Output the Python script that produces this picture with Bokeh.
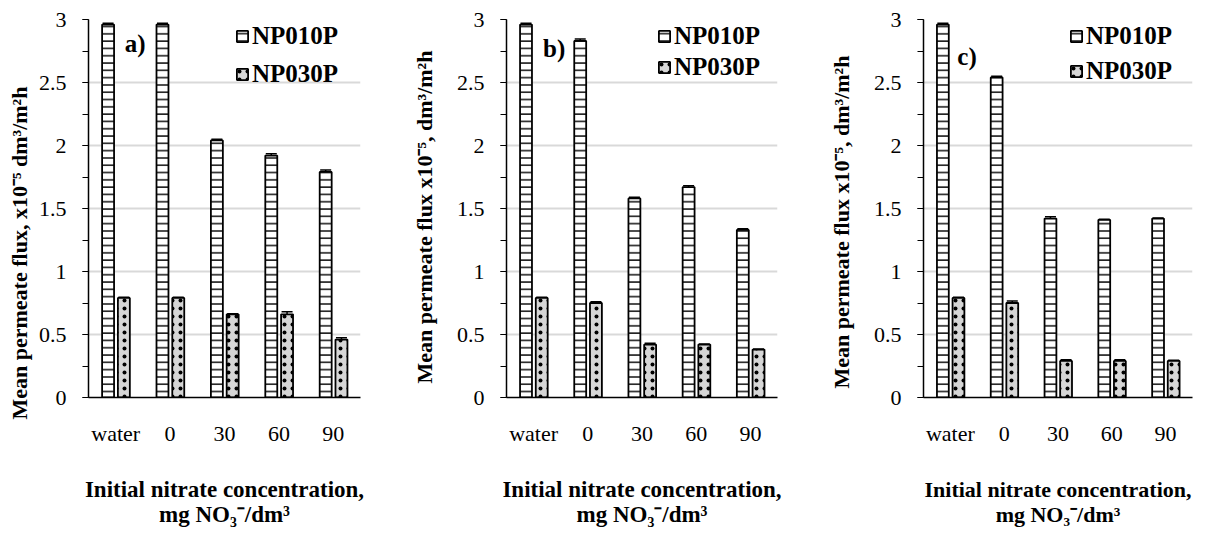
from bokeh.plotting import figure
from bokeh.layouts import row
from bokeh.models import (FactorRange, Range1d, SingleIntervalTicker, ColumnDataSource,
                          Whisker, TeeHead, Legend, LegendItem, Label, Title)
from bokeh.transform import dodge
from bokeh.embed import file_html
from bokeh.resources import INLINE

categories = ["water", "0", "30", "60", "90"]

np010p_a = [2.96, 2.96, 2.04, 1.92, 1.79]
np030p_a = [0.79, 0.79, 0.66, 0.66, 0.46]
err010_a = [0.01, 0.01, 0.01, 0.015, 0.015]
err030_a = [0.005, 0.005, 0.005, 0.02, 0.015]

np010p_b = [2.96, 2.83, 1.58, 1.67, 1.33]
np030p_b = [0.79, 0.75, 0.42, 0.42, 0.38]
err010_b = [0.01, 0.015, 0.01, 0.01, 0.01]
err030_b = [0.005, 0.01, 0.01, 0.005, 0.005]

np010p_c = [2.96, 2.54, 1.42, 1.41, 1.42]
np030p_c = [0.79, 0.75, 0.29, 0.29, 0.29]
err010_c = [0.01, 0.01, 0.015, 0.005, 0.005]
err030_c = [0.005, 0.015, 0.01, 0.01, 0.005]

panel_letters = ["a)", "b)", "c)"]
series_names = ["NP010P", "NP030P"]
ytitle_a = "Mean permeate flux, x10\u207b\u2075 dm\u00b3/m\u00b2h"
ytitle_bc = "Mean permeate flux x10\u207b\u2075, dm\u00b3/m\u00b2h"
xtitle = "Initial nitrate concentration,\nmg NO\u2083\u207b/dm\u00b3"

FONT = "Liberation Serif, Times New Roman, serif"


def make_panel(v1, v2, e1, e2, letter, ytitle, width, bl, br, lay):
    p = figure(x_range=FactorRange(*categories), y_range=Range1d(0, 3),
               width=width, height=529, output_backend="svg",
               toolbar_location=None, min_border_left=bl, min_border_right=br,
               min_border_top=19, min_border_bottom=124)
    p.outline_line_color = None
    src = ColumnDataSource(dict(cat=categories, v1=v1, v2=v2,
                                up1=[a + b for a, b in zip(v1, e1)],
                                lo1=[a - b for a, b in zip(v1, e1)],
                                up2=[a + b for a, b in zip(v2, e2)],
                                lo2=[a - b for a, b in zip(v2, e2)]))
    off1, off2 = -0.14, 0.15
    r1 = p.vbar(x=dodge("cat", off1, range=p.x_range), top="v1", width=0.22, source=src,
                fill_color="white", line_color="black", line_width=1.8,
                hatch_pattern="horizontal_line", hatch_scale=7.3, hatch_weight=1.4,
                hatch_color="black")
    r2 = p.vbar(x=dodge("cat", off2, range=p.x_range), top="v2", width=0.22, source=src,
                fill_color="#d6d6d6", line_color="black", line_width=1.8,
                hatch_pattern="dot", hatch_scale=8, hatch_weight=1.6,
                hatch_color="black")
    for base, up, lo in ((dodge("cat", off1, range=p.x_range), "up1", "lo1"),
                         (dodge("cat", off2, range=p.x_range), "up2", "lo2")):
        w = Whisker(source=src, base=base, upper=up, lower=lo, line_color="black",
                    line_width=1.5,
                    upper_head=TeeHead(size=11, line_color="black", line_width=1.5),
                    lower_head=TeeHead(size=11, line_color="black", line_width=1.5))
        p.add_layout(w)

    p.yaxis.ticker = SingleIntervalTicker(interval=0.5, num_minor_ticks=2)
    p.yaxis.major_tick_in = 0
    p.yaxis.major_tick_out = 6
    p.yaxis.minor_tick_in = 0
    p.yaxis.minor_tick_out = 6
    p.yaxis.major_tick_line_color = "black"
    p.yaxis.minor_tick_line_color = "black"
    p.yaxis.axis_line_color = "black"
    p.yaxis.axis_line_width = 1.5
    p.yaxis.major_label_text_font = FONT
    p.yaxis.major_label_text_font_size = "22px"
    p.yaxis.major_label_text_color = "black"
    p.yaxis.major_label_standoff = 16

    p.xaxis.major_tick_line_color = None
    p.xaxis.minor_tick_line_color = None
    p.xaxis.axis_line_color = "black"
    p.xaxis.axis_line_width = 1.5
    p.xaxis.major_label_text_font = FONT
    p.xaxis.major_label_text_font_size = "22px"
    p.xaxis.major_label_text_color = "black"
    p.xaxis.major_label_standoff = 17
    p.xaxis.axis_label = xtitle
    p.xaxis.axis_label_text_font = FONT
    p.xaxis.axis_label_text_font_style = "bold"
    p.xaxis.axis_label_text_font_size = lay["xfs"]
    p.xaxis.axis_label_text_line_height = 1.0
    p.xaxis.axis_label_text_color = "black"
    p.xaxis.axis_label_standoff = 28

    p.xgrid.grid_line_color = None
    p.ygrid.grid_line_color = "#d9d9d9"
    p.ygrid.grid_line_width = 2

    yt = Title(text=ytitle, align="left", offset=lay["yoff"], standoff=lay["ystand"],
               text_font=FONT, text_font_style="bold", text_font_size="22px",
               text_color="black")
    p.add_layout(yt, "left")

    legend = Legend(items=[LegendItem(label=series_names[0], renderers=[r1]),
                           LegendItem(label=series_names[1], renderers=[r2])],
                    location="top_right")
    legend.label_text_font = FONT
    legend.label_text_font_style = "bold"
    legend.label_text_font_size = "25px"
    legend.label_text_color = "black"
    legend.glyph_width = 14
    legend.glyph_height = 14
    legend.label_standoff = 3
    legend.label_width = lay["legw"]
    legend.spacing = lay["legsp"]
    legend.padding = 3
    legend.margin = 0
    legend.label_height = 24
    legend.background_fill_alpha = 0
    legend.border_line_alpha = 0
    p.add_layout(legend)

    p.add_layout(Label(x=lay["letter"][0], y=lay["letter"][1], text=letter,
                       text_font=FONT, text_font_style="bold", text_font_size="25px",
                       text_align="center", text_baseline="middle", text_color="black"))
    return p


lay_a = dict(legw=105, legsp=10, letter=(0.86, 2.81), yoff=-22, ystand=8, xfs="23px")
lay_b = dict(legw=100, legsp=3, letter=(0.88, 2.77), yoff=14, ystand=34, xfs="23px")
lay_c = dict(legw=103, legsp=7, letter=(0.81, 2.71), yoff=9, ystand=34, xfs="22px")

pa = make_panel(np010p_a, np030p_a, err010_a, err030_a, panel_letters[0], ytitle_a,
                392, 86, 32, lay_a)
pb = make_panel(np010p_b, np030p_b, err010_b, err030_b, panel_letters[1], ytitle_bc,
                415, 113, 30, lay_b)
pc = make_panel(np010p_c, np030p_c, err010_c, err030_c, panel_letters[2], ytitle_bc,
                389, 116, 4, lay_c)

layout = row(pa, pb, pc)
open("out.html", "w").write(file_html(layout, INLINE))
